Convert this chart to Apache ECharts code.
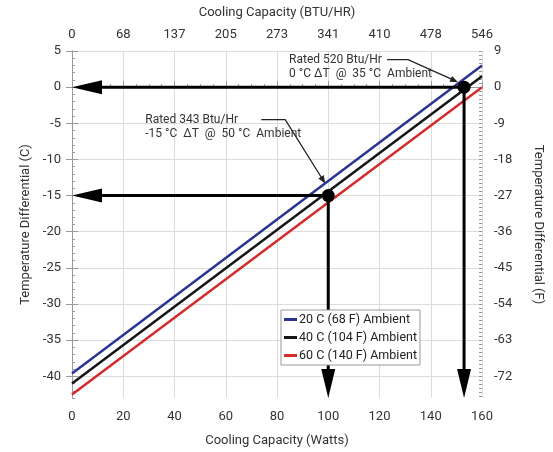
<!DOCTYPE html>
<html><head><meta charset="utf-8">
<script src="https://cdn.jsdelivr.net/npm/echarts@6/dist/echarts.min.js"></script>
<style>html,body{margin:0;padding:0;background:#fff}#c{width:553px;height:452px}</style>
</head><body><div id="c"></div>
<script>
// ---- data ----
const wattTicks = [0, 20, 40, 60, 80, 100, 120, 140, 160];
const btuLabels = ['0', '68', '137', '205', '273', '341', '410', '478', '546'];
const cTicks = [5, 0, -5, -10, -15, -20, -25, -30, -35, -40];
const fTicks = [9, 0, -9, -18, -27, -36, -45, -54, -63, -72];
const seriesNames = ['20 C (68 F) Ambient', '40 C (104 F) Ambient', '60 C (140 F) Ambient'];
const watts = [0, 160];
const amb20 = [-39.6, 3.0];
const amb40 = [-41.0, 1.5];
const amb60 = [-42.5, 0.0];
const ratedPoints = [[153, 0], [100, -15]];
const ratedNotes = [
  ['Rated 520 Btu/Hr', '0 °C ΔT  @  35 °C  Ambient'],
  ['Rated 343 Btu/Hr', '-15 °C  ΔT  @  50 °C  Ambient']
];
// ---- layout / style ----
const yMinC = -43, yMaxC = 5, yMinF = -77.4, yMaxF = 9;
const FONT = 'Roboto';
const noteOffsets = [
  {text: [-175, -27.5], start: [-77, -27.5], elbow: [-56, -27.5], tip: [-6, -5]},
  {text: [-183, -76], start: [-67, -76], elbow: [-43, -76], tip: [-3, -12]}
];
const minorRange = (a, b, s) => { const r = []; for (let v = a; v <= b + 1e-9; v += s) r.push(v); return r; };
const cMinor = minorRange(-43, 5, 1);
const fMinor = minorRange(-77, 9, 1);
const wMinor = minorRange(0, 160, 5);
const colors = ['#2b3490', '#151515', '#d62b2b'];
const axisColor = '#9a9a9a';
const labelStyle = {fontFamily: FONT, fontSize: 13, color: '#333'};

function tri(tip, dir, len, half) {
  const bx = tip[0] - dir[0] * len, by = tip[1] - dir[1] * len;
  return [[tip[0], tip[1]], [bx - dir[1] * half, by + dir[0] * half], [bx + dir[1] * half, by - dir[0] * half]];
}

function renderRated(params, api) {
  const i = params.dataIndex;
  const x = api.value(0), y = api.value(1);
  const p = api.coord([x, y]);
  const pl = api.coord([0, y]);
  const pb = api.coord([x, yMinC]);
  const ch = [];
  const blk = {stroke: '#000', lineWidth: 3};
  ch.push({type: 'line', shape: {x1: p[0], y1: p[1], x2: pl[0] + 26, y2: p[1]}, style: blk});
  ch.push({type: 'polygon', shape: {points: tri([pl[0], p[1]], [-1, 0], 30, 7)}, style: {fill: '#000'}});
  ch.push({type: 'line', shape: {x1: p[0], y1: p[1], x2: p[0], y2: pb[1] - 25}, style: blk});
  ch.push({type: 'polygon', shape: {points: tri([p[0], pb[1]], [0, 1], 29, 7)}, style: {fill: '#000'}});
  ch.push({type: 'circle', shape: {cx: p[0], cy: p[1], r: 6.5}, style: {fill: '#000'}});
  const o = noteOffsets[i];
  const s = [p[0] + o.start[0], p[1] + o.start[1]];
  const e = [p[0] + o.elbow[0], p[1] + o.elbow[1]];
  const t = [p[0] + o.tip[0], p[1] + o.tip[1]];
  const dx = t[0] - e[0], dy = t[1] - e[1], dl = Math.hypot(dx, dy);
  const dir = [dx / dl, dy / dl];
  const tb = [t[0] - dir[0] * 6, t[1] - dir[1] * 6];
  ch.push({type: 'polyline', shape: {points: [s, e, tb]}, style: {stroke: '#222', lineWidth: 1.3, fill: null}});
  ch.push({type: 'polygon', shape: {points: tri(t, dir, 8, 3.2)}, style: {fill: '#222'}});
  const notes = ratedNotes[i];
  notes.forEach((ln, k) => {
    ch.push({type: 'text', x: p[0] + o.text[0], y: p[1] + o.text[1] + k * 14.5,
      style: {text: ln, fill: '#333', font: '12px ' + FONT, textAlign: 'left', textVerticalAlign: 'middle'}});
  });
  return {type: 'group', children: ch};
}

const chart = echarts.init(document.getElementById('c'), null, {renderer: 'canvas'});
chart.setOption({
  animation: false,
  backgroundColor: '#fff',
  textStyle: {fontFamily: FONT},
  grid: {left: 72, right: 66, top: 51, bottom: 48, containLabel: false},
  legend: {
    orient: 'vertical', left: 281, top: 310, zlevel: 1, z: 10,
    data: seriesNames, icon: 'rect', itemWidth: 13, itemHeight: 3, itemGap: 5,
    padding: [3, 3, 3, 3], borderColor: '#999', borderWidth: 1, backgroundColor: '#fff',
    textStyle: {fontFamily: FONT, fontSize: 12.5, color: '#222', padding: [0, 0, 0, -3]}
  },
  xAxis: [
    {type: 'value', min: 0, max: 160, position: 'bottom',
      name: 'Cooling Capacity (Watts)', nameLocation: 'middle', nameGap: 36,
      nameTextStyle: {fontFamily: FONT, fontSize: 13, color: '#333'},
      axisLabel: Object.assign({customValues: wattTicks, margin: 12}, labelStyle),
      axisTick: {show: true, customValues: wattTicks, inside: true, length: 6, lineStyle: {color: axisColor}},
      splitLine: {show: true, lineStyle: {color: '#dcdcdc', width: 1}},
      axisLine: {show: true, lineStyle: {color: axisColor, width: 1}}},
    {type: 'value', min: 0, max: 160, position: 'top',
      name: 'Cooling Capacity (BTU/HR)', nameLocation: 'middle', nameGap: 32,
      nameTextStyle: {fontFamily: FONT, fontSize: 13, color: '#333'},
      axisLabel: Object.assign({customValues: wattTicks, margin: 10,
        formatter: v => btuLabels[wattTicks.indexOf(v)]}, labelStyle),
      axisTick: {show: false}, splitLine: {show: false},
      axisLine: {show: true, lineStyle: {color: axisColor, width: 1}}},
    {type: 'value', min: 0, max: 160, position: 'bottom',
      axisLabel: {show: false}, splitLine: {show: false}, axisLine: {show: false},
      axisTick: {show: true, customValues: wMinor, inside: true, length: 3, lineStyle: {color: axisColor}}}
  ],
  yAxis: [
    {type: 'value', min: yMinC, max: yMaxC, position: 'left',
      name: 'Temperature Differential (C)', nameLocation: 'middle', nameGap: 37,
      nameTextStyle: {fontFamily: FONT, fontSize: 13, color: '#333'},
      axisLabel: Object.assign({customValues: cTicks, margin: 11}, labelStyle),
      axisTick: {show: true, customValues: cTicks, inside: true, length: 6, lineStyle: {color: axisColor}},
      splitLine: {show: true, lineStyle: {color: '#dcdcdc', width: 1}},
      axisLine: {show: true, lineStyle: {color: axisColor, width: 1}}},
    {type: 'value', min: yMinF, max: yMaxF, position: 'right',
      name: 'Temperature Differential (F)', nameLocation: 'middle', nameGap: 50, nameRotate: -90,
      nameTextStyle: {fontFamily: FONT, fontSize: 13, color: '#333'},
      axisLabel: Object.assign({customValues: fTicks, margin: 12}, labelStyle),
      axisTick: {show: true, customValues: fTicks, inside: true, length: 6, lineStyle: {color: axisColor}},
      splitLine: {show: false},
      axisLine: {show: true, lineStyle: {color: axisColor, width: 1}}},
    {type: 'value', min: yMinC, max: yMaxC, position: 'left',
      axisLabel: {show: false}, splitLine: {show: false}, axisLine: {show: false},
      axisTick: {show: true, customValues: cMinor, inside: true, length: 3, lineStyle: {color: axisColor}}},
    {type: 'value', min: yMinF, max: yMaxF, position: 'right',
      axisLabel: {show: false}, splitLine: {show: false}, axisLine: {show: false},
      axisTick: {show: true, customValues: fMinor, inside: true, length: 3, lineStyle: {color: axisColor}}}
  ],
  series: [
    {name: seriesNames[0], type: 'line', xAxisIndex: 0, yAxisIndex: 0, symbol: 'none', z: 2,
      data: watts.map((w, i) => [w, amb20[i]]), color: colors[0], lineStyle: {width: 2.5, color: colors[0]}},
    {name: seriesNames[1], type: 'line', xAxisIndex: 0, yAxisIndex: 0, symbol: 'none', z: 2,
      data: watts.map((w, i) => [w, amb40[i]]), color: colors[1], lineStyle: {width: 2.5, color: colors[1]}},
    {name: seriesNames[2], type: 'line', xAxisIndex: 0, yAxisIndex: 0, symbol: 'none', z: 2,
      data: watts.map((w, i) => [w, amb60[i]]), color: colors[2], lineStyle: {width: 2.5, color: colors[2]}},
    {name: 'rated', type: 'custom', xAxisIndex: 0, yAxisIndex: 0, clip: false, z: 3,
      encode: {x: 0, y: 1}, data: ratedPoints, renderItem: renderRated}
  ]
});
</script></body></html>
